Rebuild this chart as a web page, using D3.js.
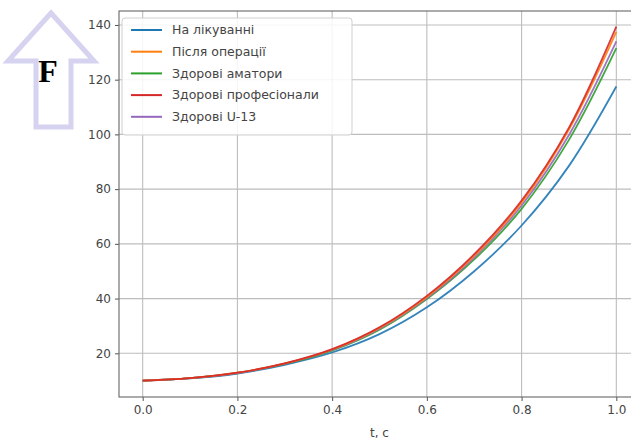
<!DOCTYPE html>
<html>
<head>
<meta charset="utf-8">
<script src="https://cdn.jsdelivr.net/npm/d3@7/dist/d3.min.js"></script>
<style>
  body { margin: 0; background: #fff; }
  svg { display: block; font-family: "DejaVu Sans", sans-serif; }
</style>
</head>
<body>
<script>
// t, c
var tValues = [0, 0.1, 0.2, 0.3, 0.4, 0.5, 0.6, 0.7, 0.8, 0.9, 1.0];
var seriesNames = ["На лікуванні", "Після операції", "Здорові аматори", "Здорові професіонали", "Здорові U-13"];
var onTreatment  = [10, 10.8, 12.6, 15.8, 20.3, 27.0, 36.8, 50.0, 66.7, 88.5, 117.5];
var afterSurgery = [10, 10.9, 12.9, 16.3, 21.4, 29.3, 40.6, 55.6, 75.0, 101.8, 137.5];
var amateurs     = [10, 10.9, 12.8, 16.1, 21.0, 28.6, 39.8, 54.3, 72.8, 98.0, 131.5];
var professionals= [10, 10.9, 12.9, 16.3, 21.5, 29.5, 41.0, 56.2, 75.8, 102.5, 139.4];
var u13          = [10, 10.9, 12.8, 16.2, 21.2, 29.0, 40.2, 55.0, 74.0, 99.8, 134.0];
var xTicks = [0, 0.2, 0.4, 0.6, 0.8, 1.0];
var yTicks = [20, 40, 60, 80, 100, 120, 140];
var colors = ["#1f77b4", "#ff7f0e", "#2ca02c", "#d62728", "#9467bd"];

var allSeries = [onTreatment, afterSurgery, amateurs, professionals, u13];

var W = 631, H = 441;
var mLeft = 119, mTop = 11, mRight = 640, mBottom = 397;

var svg = d3.select("body").append("svg").attr("width", W).attr("height", H);

var x = d3.scaleLinear().domain([-0.05, 1.05]).range([mLeft, mRight]);
var y = d3.scaleLinear().domain([4.03, 145.1]).range([mBottom, mTop]);

// grid
svg.append("g").selectAll("line").data(xTicks).enter().append("line")
  .attr("x1", d => x(d)).attr("x2", d => x(d)).attr("y1", mTop).attr("y2", mBottom)
  .attr("stroke", "#bdbdbd").attr("stroke-width", 1.1);
svg.append("g").selectAll("line").data(yTicks).enter().append("line")
  .attr("y1", d => y(d)).attr("y2", d => y(d)).attr("x1", mLeft).attr("x2", mRight)
  .attr("stroke", "#bdbdbd").attr("stroke-width", 1.1);

// lines
var line = d3.line()
  .x((d, i) => x(tValues[i]))
  .y(d => y(d))
  .curve(d3.curveCatmullRom.alpha(0.5));

var drawOrder = [0, 2, 4, 1, 3];
drawOrder.forEach(function(k) {
  svg.append("path").datum(allSeries[k])
    .attr("d", line)
    .attr("fill", "none")
    .attr("stroke", colors[k])
    .attr("stroke-width", 1.8)
    .attr("opacity", 0.9);
});

// axes
var xAxis = d3.axisBottom(x).tickValues(xTicks).tickFormat(d3.format(".1f")).tickSize(4).tickPadding(4);
var yAxis = d3.axisLeft(y).tickValues(yTicks).tickSize(4).tickPadding(4);

var gx = svg.append("g").attr("transform", "translate(0," + mBottom + ")").call(xAxis);
var gy = svg.append("g").attr("transform", "translate(" + mLeft + ",0)").call(yAxis);
[gx, gy].forEach(function(g) {
  g.select(".domain").remove();
  g.selectAll(".tick line").attr("stroke", "#555").attr("stroke-width", 1);
  g.selectAll(".tick text").attr("fill", "#444").style("font-size", "12px")
    .style("font-family", "'DejaVu Sans', sans-serif");
});

// frame
svg.append("rect").attr("x", mLeft).attr("y", mTop)
  .attr("width", mRight - mLeft).attr("height", mBottom - mTop)
  .attr("fill", "none").attr("stroke", "#666").attr("stroke-width", 1.1);

// x label
svg.append("text").attr("x", (mLeft + mRight) / 2).attr("y", 437)
  .attr("text-anchor", "middle").attr("fill", "#444")
  .style("font-size", "12px").text("t, c");

// legend
var legend = svg.append("g");
legend.append("rect").attr("x", 122).attr("y", 18).attr("width", 230).attr("height", 117)
  .attr("rx", 3).attr("fill", "#fff").attr("fill-opacity", 0.85)
  .attr("stroke", "#d0d0d0").attr("stroke-width", 1);
seriesNames.forEach(function(name, i) {
  var ly = 30 + i * 21.7;
  legend.append("line").attr("x1", 131).attr("x2", 162).attr("y1", ly).attr("y2", ly)
    .attr("stroke", colors[i]).attr("stroke-width", 2);
  legend.append("text").attr("x", 172).attr("y", ly + 4.3)
    .attr("fill", "#444").style("font-size", "12.5px").text(name);
});

// F arrow decoration
svg.append("path")
  .attr("d", "M51,13 L94,61 L71,61 L71,127 L36,127 L36,61 L8,61 Z")
  .attr("fill", "none").attr("stroke", "#d5d3ef").attr("stroke-width", 5)
  .attr("stroke-linejoin", "miter");
svg.append("text").attr("x", 48).attr("y", 82).attr("text-anchor", "middle")
  .style("font-family", "'Liberation Serif', serif").style("font-weight", "bold")
  .style("font-size", "32px").attr("fill", "#000").text("F");
</script>
</body>
</html>
